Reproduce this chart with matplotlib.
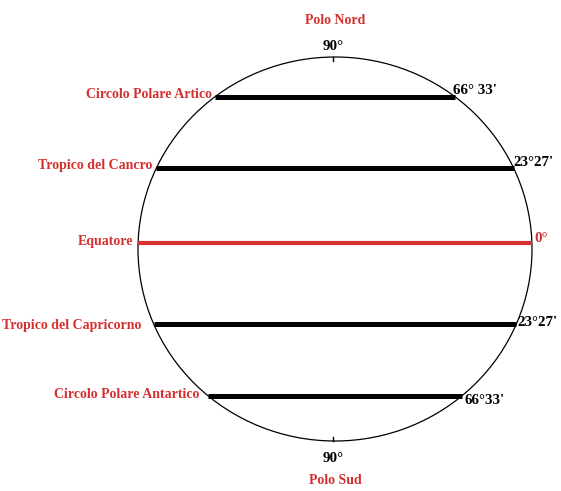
import matplotlib
matplotlib.use("Agg")
import matplotlib.pyplot as plt
import numpy as np
from matplotlib.patches import Ellipse

# Data
circle_names = ["Circolo Polare Artico", "Tropico del Cancro", "Equatore",
                "Tropico del Capricorno", "Circolo Polare Antartico"]
angle_labels = ["66° 33'", "23°27'", "0°", "23°27'", "66°33'"]
line_y = [97, 168, 243, 324, 396]          # vertical position (pixel coords)
pole_names = ["Polo Nord", "Polo Sud"]
pole_angles = ["90°", "90°"]

RED = "#d3302f"
cx, cy, a, b = 335, 249, 197, 192

fig = plt.figure(figsize=(5.61, 4.91), dpi=100)
ax = fig.add_axes([0, 0, 1, 1])
ax.set_xlim(0, 561)
ax.set_ylim(491, 0)
ax.axis("off")

ax.add_patch(Ellipse((cx, cy), 2 * a, 2 * b, fill=False, ec="black", lw=0.9))

lab_font = dict(family=["Liberation Serif", "DejaVu Serif"], weight="bold", fontsize=10)
ang_font = dict(family=["Liberation Serif", "DejaVu Serif"], weight="bold", fontsize=10.8)

lab_x = [212, 152, 133, 141, 199]
lab_dy = [-3, -2, -2, 1, -1]
ang_dx = [-2, 0, 2, 1, 3]
ang_dy = [-7, -6, -5, -2, 4]
for i, (name, ang, y) in enumerate(zip(circle_names, angle_labels, line_y)):
    t = min(1.0, abs(y - cy) / b)
    hw = a * np.sqrt(1 - t ** 2)
    if name == "Equatore":
        x0, x1 = cx - a, cx + a
        color, lw, tcol = RED, 3.0, RED
    else:
        x0, x1 = cx - hw, cx + hw
        color, lw, tcol = "black", 3.6, "black"
    ax.plot([x0, x1], [y, y], color=color, lw=lw, solid_capstyle="butt")
    ax.text(lab_x[i], y + lab_dy[i], name, color=RED, ha="right", va="center", **lab_font)
    ax.text(x1 + ang_dx[i], y + ang_dy[i], ang, color=tcol, ha="left", va="center", **ang_font)

# poles
ax.plot([cx - 2, cx - 2], [cy - b, cy - b + 4], color="black", lw=1)
ax.plot([cx - 2, cx - 2], [cy + b, cy + b - 4], color="black", lw=1)
ax.text(333, 46, pole_angles[0], color="black", ha="center", va="center", **ang_font)
ax.text(335, 20, pole_names[0], color=RED, ha="center", va="center", **lab_font)
ax.text(333, 458, pole_angles[1], color="black", ha="center", va="center", **ang_font)
ax.text(335, 480, pole_names[1], color=RED, ha="center", va="center", **lab_font)

fig.savefig("out.png", dpi=100)
